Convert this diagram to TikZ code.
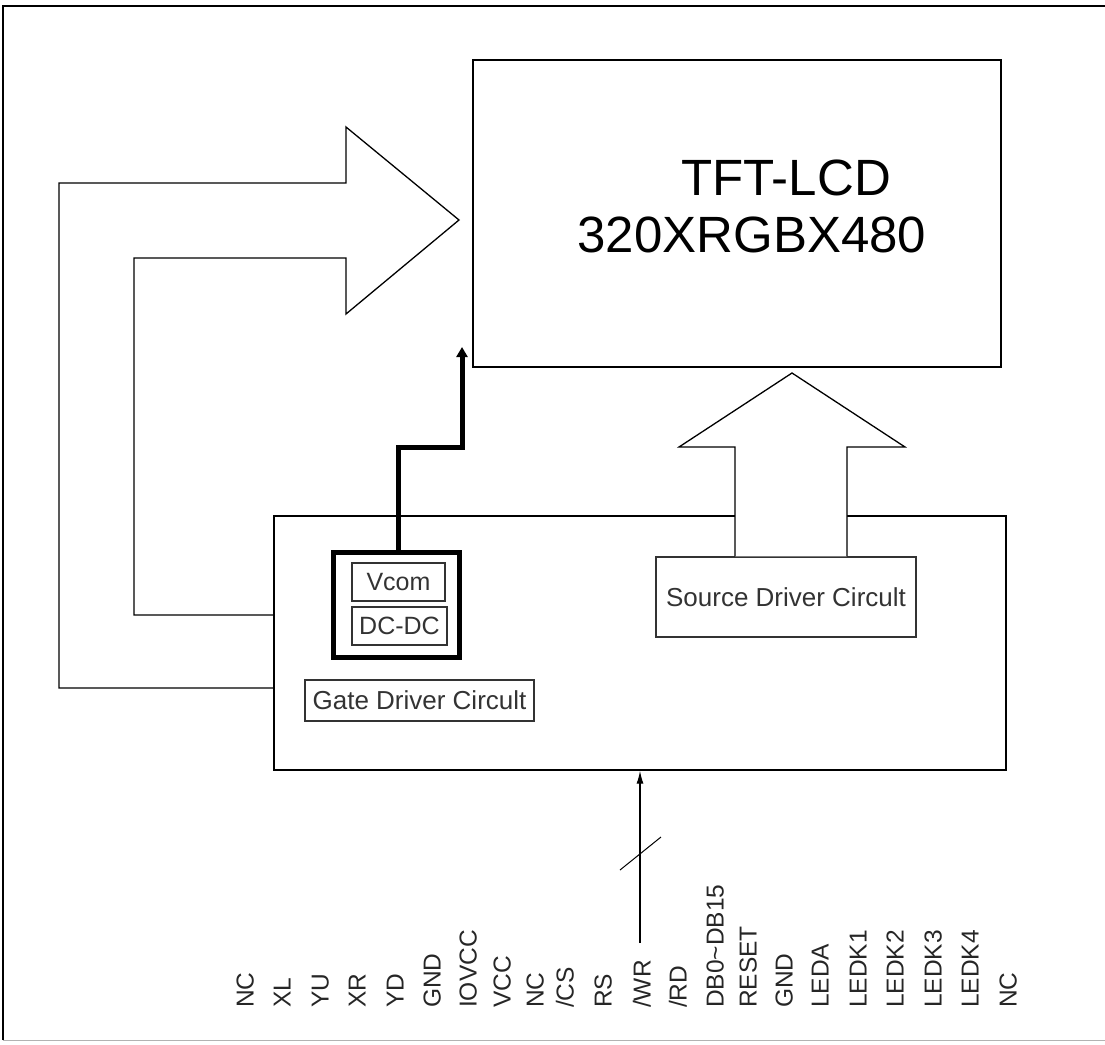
\documentclass[tikz,border=0pt]{standalone}
\usepackage{fontspec}
\setmainfont{Liberation Sans}
\usetikzlibrary{arrows.meta}

\tikzset{
  blk/.style={draw, line width=1.3pt, inner sep=0pt},
  smallbox/.style={draw=black!80, line width=1.2pt, inner sep=0pt, text=black!80,
    font=\fontsize{26}{30}\selectfont},
  pinlbl/.style={rotate=90, anchor=base west, inner sep=0pt, text=black!85,
    font=\fontsize{24.5}{28}\selectfont},
}

\begin{document}
\begin{tikzpicture}[x=1pt, y=-1pt, line join=miter]
    \useasboundingbox (0,0) rectangle (1105,1044);

% frame
    \draw[line width=2pt] (3,1040) -- (3,6) -- (1105,6);
    \draw[black!30, line width=1pt] (3,1040) -- (1105,1040);

% panel
    \node[blk, minimum width=528pt, minimum height=307pt] (lcd) at (737,213.5) {};
    \node[anchor=base, font=\fontsize{51}{60}\selectfont] (lcdname) at (786,195) {TFT-LCD};
    \node[anchor=base, font=\fontsize{51}{60}\selectfont] (lcdres) at (752,252) {320XRGBX480};

% driver IC
    \node[blk, minimum width=732pt, minimum height=254pt] (gate) at (640,643) {};
    \node[smallbox, minimum width=229pt, minimum height=41pt] (gatelbl) at (419.5,700.5) {Gate Driver Circult};
    \node[smallbox, minimum width=260pt, minimum height=80pt] (source) at (786,597) {Source Driver Circult};

    \node[draw, line width=5pt, minimum width=126pt, minimum height=105pt] (vcombox) at (396,604.5) {};
    \node[smallbox, minimum width=93pt, minimum height=38pt, font=\fontsize{25}{30}\selectfont] (vcom) at (398.5,582) {Vcom\hspace{8pt}};
    \node[smallbox, minimum width=95pt, minimum height=38pt, font=\fontsize{25}{30}\selectfont] (dcdc) at (399.5,626) {DC-DC};

% gate bus arrow
    \draw[line width=1.3pt] (gate.west |- 0,688) -| (59,183) -- (346,183) -- (346,127) -- (459,220)
        -- (346,314) -- (346,258) -- (134,258) |- (gate.west |- 0,615);

% source bus arrow
    \draw[line width=1.3pt, fill=white] (source.north -| 735,0) -- (735,447) -- (679,447) -- (792,373)
        -- (905,447) -- (847,447) -- (source.north -| 847,0);

% vcom line
    \coordinate (vbend) at (398,447);
    \coordinate (vtip) at (462,347);
    \draw[line width=5pt, -{Triangle[length=10pt,width=11pt]}] (vcombox.north -| vbend) -- (vbend) -| (vtip);

% interface bus
    \coordinate (busfoot) at (640,943);
    \draw[line width=1.3pt, -{Latex[length=13pt,width=7pt]}] (busfoot) -- (busfoot |- gate.south);
    \coordinate (slashA) at (620,870);
    \coordinate (slashB) at (661,837);
    \draw[line width=1pt] (slashA) -- (slashB);

% pins
    \node[pinlbl] (p1) at (253.5,1008) {NC};
    \node[pinlbl] (p2) at (290.5,1008) {XL};
    \node[pinlbl] (p3) at (328.5,1008) {YU};
    \node[pinlbl] (p4) at (365.5,1008) {XR};
    \node[pinlbl] (p5) at (403.5,1008) {YD};
    \node[pinlbl] (p6) at (440.5,1008) {GND};
    \node[pinlbl] (p7) at (476.5,1008) {IOVCC};
    \node[pinlbl] (p8) at (510.5,1008) {VCC};
    \node[pinlbl] (p9) at (543.5,1008) {NC};
    \node[pinlbl] (p10) at (573.5,1008) {/CS};
    \node[pinlbl] (p11) at (611.5,1008) {RS};
    \node[pinlbl] (p12) at (650.5,1008) {/WR};
    \node[pinlbl] (p13) at (686.5,1008) {/RD};
    \node[pinlbl] (p14) at (723.5,1008) {DB0\textasciitilde DB15};
    \node[pinlbl] (p15) at (756.5,1008) {RESET};
    \node[pinlbl] (p16) at (792.5,1008) {GND};
    \node[pinlbl] (p17) at (828.5,1008) {LEDA};
    \node[pinlbl] (p18) at (866.5,1008) {LEDK1};
    \node[pinlbl] (p19) at (903.5,1008) {LEDK2};
    \node[pinlbl] (p20) at (941.5,1008) {LEDK3};
    \node[pinlbl] (p21) at (978.5,1008) {LEDK4};
    \node[pinlbl] (p22) at (1016.5,1008) {NC};

\end{tikzpicture}
\end{document}
